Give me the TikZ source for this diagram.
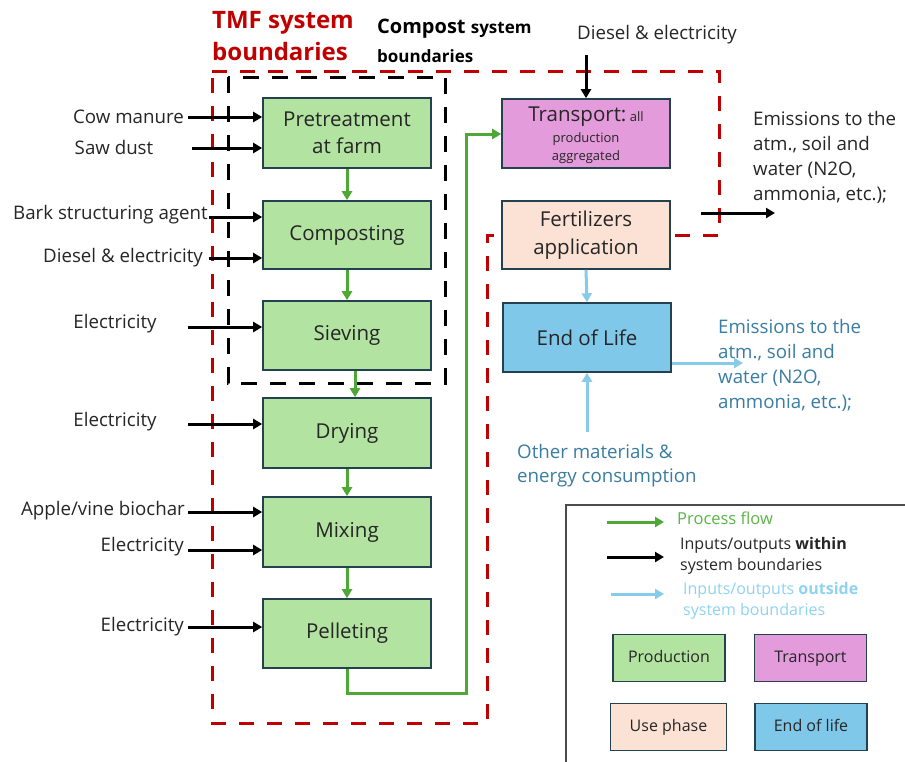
\documentclass[tikz,border=0pt]{standalone}
\usepackage{fontspec}
\setmainfont{Open Sans}
\usetikzlibrary{arrows.meta}
\definecolor{greenfill}{HTML}{B3E3A1}
\definecolor{pinkfill}{HTML}{E49BDB}
\definecolor{peachfill}{HTML}{FBE2D5}
\definecolor{bluefill}{HTML}{7FC8EA}
\definecolor{boxline}{HTML}{24414F}
\definecolor{flowgreen}{HTML}{4EA836}
\definecolor{lightblue}{HTML}{87CBEB}
\definecolor{bluetext}{HTML}{3A7DA3}
\definecolor{legblue}{HTML}{8FD3F2}
\definecolor{leggreen}{HTML}{5DB547}
\definecolor{tmfred}{HTML}{C00000}
\definecolor{txt}{HTML}{262626}
\begin{document}
\begin{tikzpicture}[x=1pt,y=-1pt,
  proc/.style={draw=boxline, line width=1.6pt, fill=greenfill, minimum width=168pt, minimum height=69pt, align=center, inner sep=0pt, font=\fontsize{20.5}{27.5}\selectfont, text=txt},
  legbox/.style={draw=boxline, line width=1.6pt, minimum width=112pt, minimum height=47pt, inner sep=0pt, font=\fontsize{16}{20}\selectfont, text=txt, text height=11.5pt, text depth=3.5pt},
  lbl/.style={font=\fontsize{18.7}{25}\selectfont, text=txt, inner sep=0pt},
  legtxt/.style={font=\fontsize{16}{21}\selectfont, inner sep=0pt, align=left, anchor=west},
  blk/.style={line width=3pt, draw=black, -{Triangle[length=9pt,width=10pt]}},
  grn/.style={line width=3pt, draw=flowgreen, -{Triangle[length=9pt,width=10pt]}},
  lbl2/.style={line width=3pt, draw=lightblue, -{Triangle[length=9pt,width=10pt]}},
  reddash/.style={draw=tmfred, line width=3pt, dash pattern=on 15pt off 13pt},
  blkdash/.style={draw=black, line width=3pt, dash pattern=on 16pt off 13pt},
]
\fill[white] (0,0) rectangle (905,761);
\useasboundingbox (0,0) rectangle (905,761);

% boundaries
\draw[reddash] (212,71) -- (719,71) -- (719,235) -- (487,235) -- (487,723) -- (212,723) -- cycle;
\draw[blkdash] (228,77) rectangle (445,383);

% titles
\node[anchor=west, inner sep=0pt, text=tmfred, align=left, font=\fontsize{24}{32}\selectfont\bfseries] (tmf) at (212,36) {TMF system\\boundaries};
\node[anchor=west, inner sep=0pt, text=black, font=\fontsize{20}{22}\selectfont\bfseries] (cmp1) at (377,29) {Compost {\fontsize{17}{22}\selectfont system}};
\node[anchor=west, inner sep=0pt, text=black, font=\fontsize{17}{22}\selectfont\bfseries] (cmp2) at (377,56) {boundaries};

% process boxes
\node[proc, minimum height=70pt] (pre) at (347,133) {Pretreatment\\at farm};
\node[proc, minimum height=68pt] (com) at (347,235) {Composting};
\node[proc] (sie) at (347,335.5) {Sieving};
\node[proc, minimum height=70pt] (dry) at (347,433) {Drying};
\node[proc, minimum height=70pt] (mix) at (347,532) {Mixing};
\node[proc] (pel) at (347,633.5) {Pelleting};

\node[proc, fill=pinkfill] (tra) at (586,133.5) {};
\node[anchor=center, inner sep=0pt, text=txt, font=\fontsize{20.5}{24}\selectfont] (tratitle) at (586,117) {Transport:\fontsize{13}{16}\selectfont\ all};
\node[anchor=center, inner sep=0pt, text=txt, align=center, font=\fontsize{13}{18}\selectfont] (trasub) at (586,148) {production\\aggregated};
\node[proc, fill=peachfill, minimum height=68pt] (fer) at (586,235) {Fertilizers\\application};
\node[proc, fill=bluefill] (eol) at (587,337.5) {End of Life};

% green flow
\draw[grn] (pre.south) -- (com.north);
\draw[grn] (com.south) -- (sie.north);
\draw[grn] ([xshift=8pt]sie.south) -- ([xshift=8pt]dry.north);
\draw[grn] (dry.south) -- (mix.north);
\draw[grn] (mix.south) -- (pel.north);
\draw[grn] (pel.south) -- (347,693) -- (466,693) -- (466,134) -- (tra.west |- 0,134);

% left inputs
\node[lbl, anchor=east] (t1) at (184,117) {Cow manure};
\node[lbl] (t2) at (114,147) {Saw dust};
\node[lbl, anchor=east] (t3) at (208,215) {Bark structuring agent};
\node[lbl, anchor=east] (t4) at (203,258) {Diesel \& electricity};
\node[lbl] (t5) at (115,324) {Electricity};
\node[lbl] (t6) at (115,422) {Electricity};
\node[lbl, anchor=east] (t7) at (185,511) {Apple/vine biochar};
\node[lbl, anchor=east] (t8) at (184,547) {Electricity};
\node[lbl, anchor=east] (t9) at (184,627) {Electricity};

\coordinate (s1) at (188,117);
\coordinate (s2) at (192,148);
\coordinate (s3) at (209,217);
\coordinate (s4) at (209,258);
\coordinate (s5) at (188,327);
\coordinate (s6) at (188,424);
\coordinate (s7) at (188,512);
\coordinate (s8) at (188,550);
\coordinate (s9) at (188,627);
\draw[blk] (s1) -- (s1 -| pre.west);
\draw[blk] (s2) -- (s2 -| pre.west);
\draw[blk] (s3) -- (s3 -| com.west);
\draw[blk] (s4) -- (s4 -| com.west);
\draw[blk] (s5) -- (s5 -| sie.west);
\draw[blk] (s6) -- (s6 -| dry.west);
\draw[blk] (s7) -- (s7 -| mix.west);
\draw[blk] (s8) -- (s8 -| mix.west);
\draw[blk] (s9) -- (s9 -| pel.west);

% top input to transport
\node[lbl] (tdiesel) at (657,35) {Diesel \& electricity};
\coordinate (sd) at (586,55);
\draw[blk] (sd) -- (tra.north);

% black emissions
\coordinate (e1) at (701,213);
\coordinate (e2) at (775,213);
\draw[blk] (e1) -- (e2);
\node[lbl, anchor=north west, align=left] (emi1) at (753,111) {Emissions to the\\atm., soil and\\water (N2O,\\ammonia, etc.);};

% blue arrows
\draw[lbl2] (fer.south) -- (eol.north);
\coordinate (om) at (587,432);
\draw[lbl2] (om) -- (eol.south);
\coordinate (be) at (743,363);
\draw[lbl2] (eol.east |- be) -- (be);
\node[lbl, text=bluetext, anchor=north west, align=left] (emi2) at (718,319) {Emissions to the\\atm., soil and\\water (N2O,\\ammonia, etc.);};
\node[lbl, text=bluetext, anchor=north west, align=left, font=\fontsize{18.7}{24.5}\selectfont] (oth) at (517,444) {Other materials \&\\energy consumption};

% legend
\draw[draw=black!70, line width=2pt] (906,505) -- (566,505) -- (566,762);
\coordinate (lg1a) at (607,522); \coordinate (lg1b) at (664,522);
\coordinate (lg2a) at (607,557); \coordinate (lg2b) at (664,557);
\coordinate (lg3a) at (611,594); \coordinate (lg3b) at (664,594);
\draw[grn] (lg1a) -- (lg1b);
\draw[blk] (lg2a) -- (lg2b);
\draw[lbl2] (lg3a) -- (lg3b);
\node[legtxt, text=leggreen, font=\fontsize{16.5}{21}\selectfont] (lt1) at (677,518) {Process flow};
\node[legtxt, text=txt] (lt2) at (680,556) {Inputs/outputs \textbf{within}\\system boundaries};
\node[legtxt, text=legblue] (lt3) at (683,600.5) {Inputs/outputs \textbf{outside}\\system boundaries};
\node[legbox, fill=greenfill] (lp) at (669,658) {Production};
\node[legbox, fill=pinkfill] (lt) at (810.5,658) {Transport};
\node[legbox, fill=peachfill, minimum width=116pt] (lu) at (668.5,727) {Use phase};
\node[legbox, fill=bluefill] (le) at (811,727) {End of life};
\end{tikzpicture}
\end{document}
